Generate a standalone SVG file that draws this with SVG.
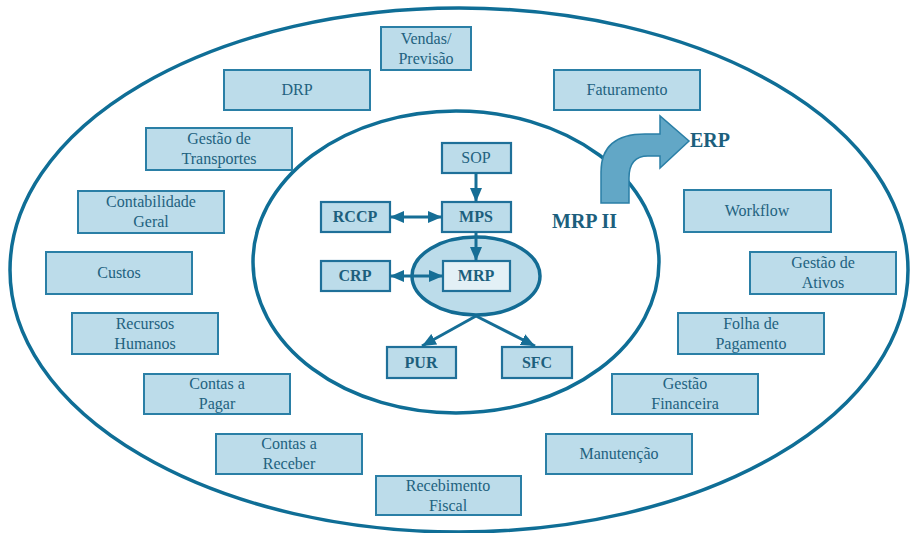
<svg xmlns="http://www.w3.org/2000/svg" width="911" height="533" viewBox="0 0 911 533">
  <defs>
    <style>
      .ring { fill: none; stroke: #0f6e96; stroke-width: 3.5; }
      .box { fill: #bcdcea; stroke: #2a7fa6; stroke-width: 2; }
      .core { fill: #bcdcea; stroke: #1f7099; stroke-width: 2.2; }
      text { font-family: "Liberation Serif", "DejaVu Serif", "Times New Roman", serif; }
      .lbl { font-size: 16px; fill: #22627f; text-anchor: middle; }
      .blbl { font-size: 16px; font-weight: bold; fill: #1c5f7d; text-anchor: middle; }
      .big { font-size: 20px; font-weight: bold; fill: #1c5f7d; }
      .flow { stroke: #166e96; stroke-width: 3; fill: none; }
    </style>
    <marker id="head" viewBox="0 0 14 12" refX="14" refY="6" markerWidth="14" markerHeight="12" markerUnits="userSpaceOnUse" orient="auto-start-reverse">
      <path d="M0,0 L14,6 L0,12 Z" fill="#166e96"/>
    </marker>
  </defs>

  <!-- enclosing rings -->
  <ellipse class="ring" cx="459" cy="270" rx="449" ry="262"/>
  <ellipse class="ring" cx="456" cy="262" rx="203" ry="151"/>

  <!-- MRP II to ERP curved arrow -->
  <g id="erp-arrow">
    <path d="M601,203 L601,172 Q601,134 645,134 L660,134 L660,116 L689,141 L660,168 L660,156 L648,156 Q629,156 629,178 L629,203 Z" fill="#62a7c6" stroke="#2a7fa6" stroke-width="1.5"/>
  </g>
  <text class="big" x="690" y="147" font-family="Liberation Serif, serif">ERP</text>
  <text class="big" x="552" y="228" font-family="Liberation Serif, serif">MRP II</text>

  <!-- outer ring modules -->
  <g id="vendas"><rect class="box" x="381" y="27" width="90" height="43"/><text class="lbl" x="426" y="44" font-family="Liberation Serif, serif">Vendas/</text><text class="lbl" x="426" y="64" font-family="Liberation Serif, serif">Previsão</text></g>
  <g id="drp"><rect class="box" x="224" y="70" width="146" height="40"/><text class="lbl" x="297" y="95" font-family="Liberation Serif, serif">DRP</text></g>
  <g id="faturamento"><rect class="box" x="554" y="70" width="146" height="40"/><text class="lbl" x="627" y="95" font-family="Liberation Serif, serif">Faturamento</text></g>
  <g id="transportes"><rect class="box" x="146" y="128" width="146" height="42"/><text class="lbl" x="219" y="144" font-family="Liberation Serif, serif">Gestão de</text><text class="lbl" x="219" y="164" font-family="Liberation Serif, serif">Transportes</text></g>
  <g id="contabilidade"><rect class="box" x="78" y="191" width="146" height="42"/><text class="lbl" x="151" y="207" font-family="Liberation Serif, serif">Contabilidade</text><text class="lbl" x="151" y="227" font-family="Liberation Serif, serif">Geral</text></g>
  <g id="custos"><rect class="box" x="46" y="252" width="146" height="42"/><text class="lbl" x="119" y="278" font-family="Liberation Serif, serif">Custos</text></g>
  <g id="rh"><rect class="box" x="72" y="313" width="146" height="41"/><text class="lbl" x="145" y="329" font-family="Liberation Serif, serif">Recursos</text><text class="lbl" x="145" y="349" font-family="Liberation Serif, serif">Humanos</text></g>
  <g id="pagar"><rect class="box" x="144" y="374" width="146" height="40"/><text class="lbl" x="217" y="389" font-family="Liberation Serif, serif">Contas a</text><text class="lbl" x="217" y="409" font-family="Liberation Serif, serif">Pagar</text></g>
  <g id="receber"><rect class="box" x="216" y="434" width="146" height="40"/><text class="lbl" x="289" y="449" font-family="Liberation Serif, serif">Contas a</text><text class="lbl" x="289" y="469" font-family="Liberation Serif, serif">Receber</text></g>
  <g id="fiscal"><rect class="box" x="376" y="476" width="145" height="39"/><text class="lbl" x="448" y="491" font-family="Liberation Serif, serif">Recebimento</text><text class="lbl" x="448" y="511" font-family="Liberation Serif, serif">Fiscal</text></g>
  <g id="manutencao"><rect class="box" x="546" y="434" width="146" height="40"/><text class="lbl" x="619" y="459" font-family="Liberation Serif, serif">Manutenção</text></g>
  <g id="financeira"><rect class="box" x="612" y="374" width="146" height="40"/><text class="lbl" x="685" y="389" font-family="Liberation Serif, serif">Gestão</text><text class="lbl" x="685" y="409" font-family="Liberation Serif, serif">Financeira</text></g>
  <g id="folha"><rect class="box" x="678" y="313" width="146" height="41"/><text class="lbl" x="751" y="329" font-family="Liberation Serif, serif">Folha de</text><text class="lbl" x="751" y="349" font-family="Liberation Serif, serif">Pagamento</text></g>
  <g id="ativos"><rect class="box" x="750" y="252" width="146" height="42"/><text class="lbl" x="823" y="268" font-family="Liberation Serif, serif">Gestão de</text><text class="lbl" x="823" y="288" font-family="Liberation Serif, serif">Ativos</text></g>
  <g id="workflow"><rect class="box" x="684" y="190" width="147" height="42"/><text class="lbl" x="757" y="216" font-family="Liberation Serif, serif">Workflow</text></g>

  <!-- MRP core -->
  <g id="mrp-zone"><ellipse cx="476" cy="276" rx="64" ry="39" fill="#bcdcea" stroke="#136c94" stroke-width="3.5"/></g>
  <g id="sop"><rect class="core" x="442" y="143" width="69" height="30"/><text class="lbl" x="476" y="163" font-family="Liberation Serif, serif">SOP</text></g>
  <g id="rccp"><rect class="core" x="321" y="202" width="69" height="30"/><text class="blbl" x="355" y="222" font-family="Liberation Serif, serif">RCCP</text></g>
  <g id="mps"><rect class="core" x="442" y="202" width="69" height="30"/><text class="blbl" x="476" y="222" font-family="Liberation Serif, serif">MPS</text></g>
  <g id="crp"><rect class="core" x="321" y="261" width="69" height="30"/><text class="blbl" x="355" y="281" font-family="Liberation Serif, serif">CRP</text></g>
  <g id="mrp"><rect x="443" y="261" width="67" height="30" fill="#e3f0f6" stroke="#1f7099" stroke-width="2.2"/><text class="blbl" x="476" y="281" font-family="Liberation Serif, serif">MRP</text></g>
  <g id="pur"><rect class="core" x="387" y="347" width="69" height="31"/><text class="blbl" x="421" y="368" font-family="Liberation Serif, serif">PUR</text></g>
  <g id="sfc"><rect class="core" x="502" y="347" width="70" height="31"/><text class="blbl" x="537" y="368" font-family="Liberation Serif, serif">SFC</text></g>

  <!-- connectors -->
  <g id="connectors">
    <line class="flow" x1="476" y1="173" x2="476" y2="202" marker-end="url(#head)"/>
    <line class="flow" x1="476" y1="232" x2="476" y2="261" marker-end="url(#head)"/>
    <line class="flow" x1="390" y1="217" x2="442" y2="217" marker-start="url(#head)" marker-end="url(#head)"/>
    <line class="flow" x1="390" y1="276" x2="443" y2="276" marker-start="url(#head)" marker-end="url(#head)"/>
    <line class="flow" x1="476" y1="316" x2="422" y2="346" marker-end="url(#head)"/>
    <line class="flow" x1="476" y1="316" x2="535" y2="346" marker-end="url(#head)"/>
  </g>
</svg>
